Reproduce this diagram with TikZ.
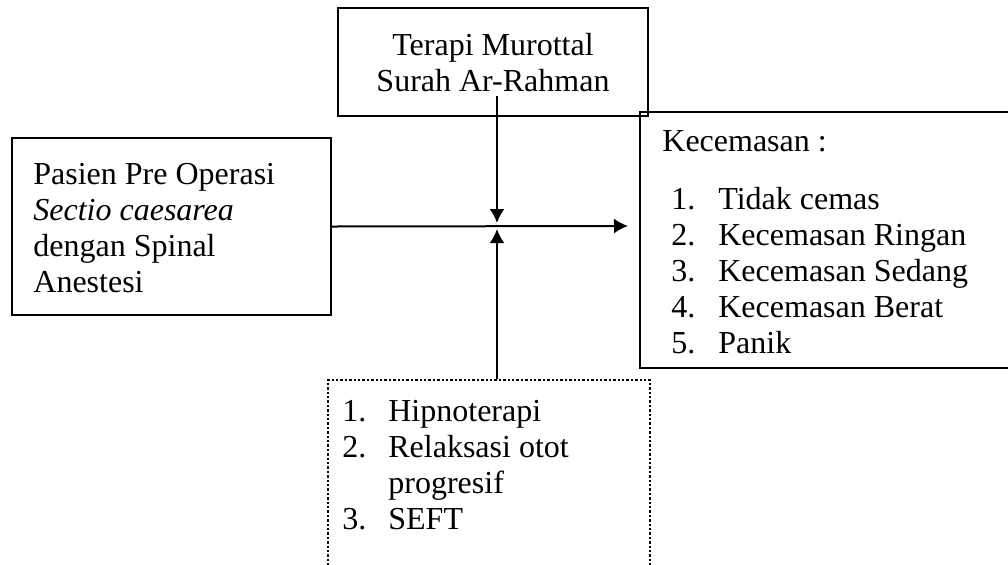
\documentclass[tikz,border=0pt]{standalone}
\usepackage{fontspec}
\setmainfont{Liberation Serif}
\usetikzlibrary{positioning,fit,calc,arrows.meta}

\tikzset{
  box/.style={draw,line width=1pt,inner sep=0pt},
  dotbox/.style={draw,line width=1.2pt,densely dotted,inner sep=0pt},
  txt/.style={inner sep=0pt,font=\fontsize{16}{18}\selectfont},
  arr/.style={line width=1pt,-{Latex[length=7pt,width=7.5pt]}}
}

\begin{document}
\begin{tikzpicture}[x=0.5pt,y=-0.5pt]
\useasboundingbox (0,0) rectangle (1008,564);
\clip (0,0) rectangle (1008,564);
% the four boxes
\node[box,fit={(338,8) (648,116)}] (murottal) {};
\node[box,fit={(12,138) (331,315)}] (pasien) {};
\node[box,fit={(640,112) (1030,368)}] (cemas) {};
\node[dotbox,fit={(328,380) (650,600)}] (lain) {};
% texts
\node[txt,anchor=base] (murottal1) at (493,55) {Terapi Murottal};
\node[txt,anchor=base] (murottal2) at (493,91) {Surah Ar-Rahman};
\foreach \baris [count=\n] in {Pasien Pre Operasi,\textit{Sectio caesarea},dengan Spinal,Anestesi}
  \node[txt,anchor=base west] (pasien\n) at (33,148+36*\n) {\baris};
\node[txt,anchor=base west] (judul) at (662,151) {Kecemasan :};
\foreach \isi [count=\n] in {Tidak cemas,Kecemasan Ringan,Kecemasan Sedang,Kecemasan Berat,Panik}
  \node[txt,anchor=base west] (cemas\n) at (671,173+36*\n) {\makebox[23.5pt][l]{\n.}\isi};
\foreach \no/\isi [count=\n] in {1./Hipnoterapi,2./Relaksasi otot,/progresif,3./SEFT}
  \node[txt,anchor=base west] (lain\n) at (342,385+36*\n) {\makebox[23pt][l]{\no}\isi};
% arrows
\coordinate (temu) at (497,226);
\coordinate (ujung) at (628,226);
\draw[arr] (pasien.east) -- (ujung);
\draw[arr] ($(murottal.south -| temu)+(0,-21)$) -- ($(temu)+(0,-3)$);
\draw[arr] (lain.north -| temu) -- ($(temu)+(0,3)$);
\end{tikzpicture}
\end{document}
